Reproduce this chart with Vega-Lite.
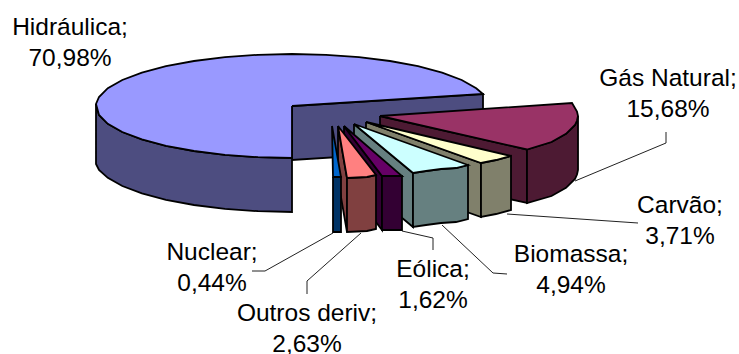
{
  "$schema": "https://vega.github.io/schema/vega-lite/v6.json",
  "width": 739,
  "height": 354,
  "padding": 0,
  "autosize": {"type": "none"},
  "background": "white",
  "view": {"stroke": null},
  "config": {"axis": {"domain": false, "grid": false, "ticks": false, "labels": false, "title": null}},
  "datasets": {
    "faces": [
      {"f":"H interna","i":1,"x":292,"y":106},{"f":"H interna","i":2,"x":483,"y":94},{"f":"H interna","i":3,"x":483,"y":148},{"f":"H interna","i":4,"x":292,"y":160},{"f":"H interna","i":5,"x":292,"y":106},

      {"f":"H externa","i":1,"x":96,"y":104},{"f":"H externa","i":2,"x":99,"y":115},{"f":"H externa","i":3,"x":107.8,"y":123.8},{"f":"H externa","i":4,"x":122.3,"y":132},{"f":"H externa","i":5,"x":141.9,"y":139.4},{"f":"H externa","i":6,"x":166,"y":145.8},{"f":"H externa","i":7,"x":194,"y":151},{"f":"H externa","i":8,"x":225,"y":154.9},{"f":"H externa","i":9,"x":258,"y":157.2},{"f":"H externa","i":10,"x":292,"y":158},{"f":"H externa","i":11,"x":292,"y":212},{"f":"H externa","i":12,"x":258,"y":211.2},{"f":"H externa","i":13,"x":225,"y":208.9},{"f":"H externa","i":14,"x":194,"y":205},{"f":"H externa","i":15,"x":166,"y":199.8},{"f":"H externa","i":16,"x":141.9,"y":193.4},{"f":"H externa","i":17,"x":122.3,"y":186},{"f":"H externa","i":18,"x":107.8,"y":177.8},{"f":"H externa","i":19,"x":99,"y":170},{"f":"H externa","i":20,"x":96,"y":164},{"f":"H externa","i":21,"x":96,"y":104},

      {"f":"H topo","i":1,"x":292,"y":106},{"f":"H topo","i":2,"x":483,"y":94},{"f":"H topo","i":3,"x":476.2,"y":88.2},{"f":"H topo","i":4,"x":461.7,"y":80},{"f":"H topo","i":5,"x":442.1,"y":72.6},{"f":"H topo","i":6,"x":418,"y":66.2},{"f":"H topo","i":7,"x":390,"y":61},{"f":"H topo","i":8,"x":359,"y":57.1},{"f":"H topo","i":9,"x":326,"y":54.8},{"f":"H topo","i":10,"x":292,"y":54},{"f":"H topo","i":11,"x":258,"y":54.8},{"f":"H topo","i":12,"x":225,"y":57.1},{"f":"H topo","i":13,"x":194,"y":61},{"f":"H topo","i":14,"x":166,"y":66.2},{"f":"H topo","i":15,"x":141.9,"y":72.6},{"f":"H topo","i":16,"x":122.3,"y":80},{"f":"H topo","i":17,"x":107.8,"y":88.2},{"f":"H topo","i":18,"x":99,"y":97},{"f":"H topo","i":19,"x":96,"y":104},{"f":"H topo","i":20,"x":99,"y":115},{"f":"H topo","i":21,"x":107.8,"y":123.8},{"f":"H topo","i":22,"x":122.3,"y":132},{"f":"H topo","i":23,"x":141.9,"y":139.4},{"f":"H topo","i":24,"x":166,"y":145.8},{"f":"H topo","i":25,"x":194,"y":151},{"f":"H topo","i":26,"x":225,"y":154.9},{"f":"H topo","i":27,"x":258,"y":157.2},{"f":"H topo","i":28,"x":292,"y":158},{"f":"H topo","i":29,"x":292,"y":106},

      {"f":"G interna","i":1,"x":380,"y":116},{"f":"G interna","i":2,"x":527,"y":149.5},{"f":"G interna","i":3,"x":527,"y":203},{"f":"G interna","i":4,"x":380,"y":170},{"f":"G interna","i":5,"x":380,"y":116},

      {"f":"G externa","i":1,"x":578,"y":116},{"f":"G externa","i":2,"x":577,"y":120.5},{"f":"G externa","i":3,"x":575,"y":125},{"f":"G externa","i":4,"x":566,"y":133.8},{"f":"G externa","i":5,"x":551.5,"y":142},{"f":"G externa","i":6,"x":527,"y":149.5},{"f":"G externa","i":7,"x":527,"y":203},{"f":"G externa","i":8,"x":551.5,"y":196},{"f":"G externa","i":9,"x":566,"y":187.8},{"f":"G externa","i":10,"x":575,"y":179},{"f":"G externa","i":11,"x":577,"y":174.5},{"f":"G externa","i":12,"x":578,"y":170},{"f":"G externa","i":13,"x":578,"y":116},

      {"f":"G topo","i":1,"x":380,"y":116},{"f":"G topo","i":2,"x":572,"y":103},{"f":"G topo","i":3,"x":577,"y":111.5},{"f":"G topo","i":4,"x":578,"y":116},{"f":"G topo","i":5,"x":577,"y":120.5},{"f":"G topo","i":6,"x":575,"y":125},{"f":"G topo","i":7,"x":566,"y":133.8},{"f":"G topo","i":8,"x":551.5,"y":142},{"f":"G topo","i":9,"x":527,"y":149.5},{"f":"G topo","i":10,"x":380,"y":116},

      {"f":"C interna","i":1,"x":366,"y":122},{"f":"C interna","i":2,"x":481,"y":163},{"f":"C interna","i":3,"x":481,"y":217},{"f":"C interna","i":4,"x":366,"y":176},{"f":"C interna","i":5,"x":366,"y":122},

      {"f":"C externa","i":1,"x":481,"y":163},{"f":"C externa","i":2,"x":496,"y":160},{"f":"C externa","i":3,"x":511,"y":156},{"f":"C externa","i":4,"x":511,"y":210},{"f":"C externa","i":5,"x":496,"y":214},{"f":"C externa","i":6,"x":481,"y":217},{"f":"C externa","i":7,"x":481,"y":163},

      {"f":"C topo","i":1,"x":366,"y":122},{"f":"C topo","i":2,"x":511,"y":156},{"f":"C topo","i":3,"x":496,"y":160},{"f":"C topo","i":4,"x":481,"y":163},{"f":"C topo","i":5,"x":366,"y":122},

      {"f":"B interna","i":1,"x":354,"y":124},{"f":"B interna","i":2,"x":413,"y":173},{"f":"B interna","i":3,"x":413,"y":227},{"f":"B interna","i":4,"x":354,"y":178},{"f":"B interna","i":5,"x":354,"y":124},

      {"f":"B externa","i":1,"x":413,"y":173},{"f":"B externa","i":2,"x":426,"y":171},{"f":"B externa","i":3,"x":441,"y":169},{"f":"B externa","i":4,"x":456,"y":168},{"f":"B externa","i":5,"x":468,"y":165},{"f":"B externa","i":6,"x":468,"y":219},{"f":"B externa","i":7,"x":456,"y":222},{"f":"B externa","i":8,"x":441,"y":223},{"f":"B externa","i":9,"x":426,"y":225},{"f":"B externa","i":10,"x":413,"y":227},{"f":"B externa","i":11,"x":413,"y":173},

      {"f":"B topo","i":1,"x":354,"y":124},{"f":"B topo","i":2,"x":468,"y":165},{"f":"B topo","i":3,"x":456,"y":168},{"f":"B topo","i":4,"x":441,"y":169},{"f":"B topo","i":5,"x":426,"y":171},{"f":"B topo","i":6,"x":413,"y":173},{"f":"B topo","i":7,"x":354,"y":124},

      {"f":"E interna","i":1,"x":344,"y":126},{"f":"E interna","i":2,"x":382,"y":176},{"f":"E interna","i":3,"x":382,"y":230},{"f":"E interna","i":4,"x":344,"y":180},{"f":"E interna","i":5,"x":344,"y":126},

      {"f":"E externa","i":1,"x":382,"y":176},{"f":"E externa","i":2,"x":402,"y":176},{"f":"E externa","i":3,"x":402,"y":230},{"f":"E externa","i":4,"x":382,"y":230},{"f":"E externa","i":5,"x":382,"y":176},

      {"f":"E topo","i":1,"x":344,"y":126},{"f":"E topo","i":2,"x":402,"y":176},{"f":"E topo","i":3,"x":382,"y":176},{"f":"E topo","i":4,"x":344,"y":126},

      {"f":"O interna","i":1,"x":338,"y":126},{"f":"O interna","i":2,"x":347,"y":178},{"f":"O interna","i":3,"x":347,"y":232},{"f":"O interna","i":4,"x":338,"y":180},{"f":"O interna","i":5,"x":338,"y":126},

      {"f":"O externa","i":1,"x":347,"y":178},{"f":"O externa","i":2,"x":367,"y":177},{"f":"O externa","i":3,"x":376,"y":175},{"f":"O externa","i":4,"x":376,"y":229},{"f":"O externa","i":5,"x":367,"y":231},{"f":"O externa","i":6,"x":347,"y":232},{"f":"O externa","i":7,"x":347,"y":178},

      {"f":"O topo","i":1,"x":338,"y":126},{"f":"O topo","i":2,"x":376,"y":175},{"f":"O topo","i":3,"x":367,"y":177},{"f":"O topo","i":4,"x":347,"y":178},{"f":"O topo","i":5,"x":338,"y":126},

      {"f":"N externa","i":1,"x":333,"y":177},{"f":"N externa","i":2,"x":341,"y":177},{"f":"N externa","i":3,"x":341,"y":232},{"f":"N externa","i":4,"x":333,"y":232},{"f":"N externa","i":5,"x":333,"y":177},

      {"f":"N topo","i":1,"x":332,"y":126},{"f":"N topo","i":2,"x":341,"y":177},{"f":"N topo","i":3,"x":333,"y":177},{"f":"N topo","i":4,"x":332,"y":126}
    ],
    "leaders": [
      {"s":"Gás Natural","i":1,"x":575,"y":181},{"s":"Gás Natural","i":2,"x":666,"y":143},{"s":"Gás Natural","i":3,"x":666,"y":132},
      {"s":"Carvão","i":1,"x":507,"y":214},{"s":"Carvão","i":2,"x":638,"y":223},
      {"s":"Biomassa","i":1,"x":442,"y":225},{"s":"Biomassa","i":2,"x":493,"y":273},{"s":"Biomassa","i":3,"x":507,"y":274},
      {"s":"Eólica","i":1,"x":402,"y":231},{"s":"Eólica","i":2,"x":433,"y":238},{"s":"Eólica","i":3,"x":433,"y":250},
      {"s":"Outros deriv","i":1,"x":361,"y":233},{"s":"Outros deriv","i":2,"x":307,"y":281},{"s":"Outros deriv","i":3,"x":307,"y":294},
      {"s":"Nuclear","i":1,"x":333,"y":233},{"s":"Nuclear","i":2,"x":265,"y":271},{"s":"Nuclear","i":3,"x":252,"y":271}
    ],
    "labels": [
      {"nome":"Hidráulica","valor":70.98,"texto":"Hidráulica;\n70,98%","x":70,"y":28},
      {"nome":"Gás Natural","valor":15.68,"texto":"Gás Natural;\n15,68%","x":668,"y":79},
      {"nome":"Carvão","valor":3.71,"texto":"Carvão;\n3,71%","x":680,"y":206},
      {"nome":"Biomassa","valor":4.94,"texto":"Biomassa;\n4,94%","x":571,"y":255},
      {"nome":"Eólica","valor":1.62,"texto":"Eólica;\n1,62%","x":433,"y":270},
      {"nome":"Outros deriv","valor":2.63,"texto":"Outros deriv;\n2,63%","x":307,"y":314},
      {"nome":"Nuclear","valor":0.44,"texto":"Nuclear;\n0,44%","x":212,"y":253}
    ]
  },
  "layer": [
    {
      "data": {"name": "faces"},
      "mark": {"type": "line", "filled": true, "stroke": "black", "strokeWidth": 1.8, "point": false},
      "encoding": {
        "x": {"field": "x", "type": "quantitative", "scale": {"domain": [0, 739], "nice": false, "zero": false}, "axis": null},
        "y": {"field": "y", "type": "quantitative", "scale": {"domain": [354, 0], "nice": false, "zero": false}, "axis": null},
        "order": {"field": "i", "type": "quantitative"},
        "detail": {"field": "f", "type": "nominal"},
        "fill": {
          "field": "f",
          "type": "nominal",
          "legend": null,
          "scale": {
            "domain": ["H interna","H externa","H topo","G interna","G externa","G topo","C interna","C externa","C topo","B interna","B externa","B topo","E interna","E externa","E topo","O interna","O externa","O topo","N externa","N topo"],
            "range": ["#4D4D80","#4D4D80","#9999FF","#4D1A33","#4D1A33","#993366","#80806B","#80806B","#FFFFCC","#668080","#668080","#CCFFFF","#330033","#330033","#660066","#804040","#804040","#FF8080","#003366","#0066CC"]
          }
        }
      }
    },
    {
      "data": {"name": "leaders"},
      "mark": {"type": "line", "stroke": "#222222", "strokeWidth": 1},
      "encoding": {
        "x": {"field": "x", "type": "quantitative", "scale": {"domain": [0, 739], "nice": false, "zero": false}, "axis": null},
        "y": {"field": "y", "type": "quantitative", "scale": {"domain": [354, 0], "nice": false, "zero": false}, "axis": null},
        "order": {"field": "i", "type": "quantitative"},
        "detail": {"field": "s", "type": "nominal"}
      }
    },
    {
      "data": {"name": "labels"},
      "mark": {"type": "text", "font": "Liberation Sans", "fontSize": 24.5, "lineHeight": 31, "lineBreak": "\n", "align": "center", "baseline": "middle", "color": "black"},
      "encoding": {
        "x": {"field": "x", "type": "quantitative", "scale": {"domain": [0, 739], "nice": false, "zero": false}, "axis": null},
        "y": {"field": "y", "type": "quantitative", "scale": {"domain": [354, 0], "nice": false, "zero": false}, "axis": null},
        "text": {"field": "texto"}
      }
    }
  ]
}
